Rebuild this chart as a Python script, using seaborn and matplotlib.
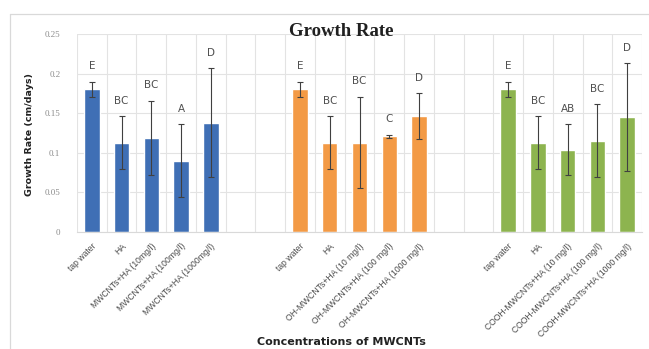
import numpy as np
import pandas as pd
import seaborn as sns
import matplotlib.pyplot as plt
from matplotlib.lines import Line2D

# ---- data ----
blue_labels = ["tap water", "HA", "MWCNTs+HA (10mg/l)", "MWCNTs+HA (100mg/l)", "MWCNTs+HA (1000mg/l)"]
orange_labels = ["tap water", "HA", "OH-MWCNTs+HA (10 mg/l)", "OH-MWCNTs+HA (100 mg/l)", "OH-MWCNTs+HA (1000 mg/l)"]
green_labels = ["tap water", "HA", "COOH-MWCNTs+HA (10 mg/l)", "COOH-MWCNTs+HA (100 mg/l)", "COOH-MWCNTs+HA (1000 mg/l)"]

blue_values = [0.180, 0.113, 0.119, 0.090, 0.138]
blue_errors = [0.010, 0.033, 0.047, 0.046, 0.069]
orange_values = [0.180, 0.113, 0.113, 0.121, 0.146]
orange_errors = [0.010, 0.033, 0.058, 0.002, 0.029]
green_values = [0.180, 0.113, 0.104, 0.115, 0.145]
green_errors = [0.010, 0.033, 0.032, 0.046, 0.068]

blue_letters = ["E", "BC", "BC", "A", "D"]
orange_letters = ["E", "BC", "BC", "C", "D"]
green_letters = ["E", "BC", "AB", "BC", "D"]

group_names = ["MWCNTs", "OH-MWCNTs", "COOH-MWCNTs"]
colors = {"MWCNTs": "#3F6FB5", "OH-MWCNTs": "#F39A45", "COOH-MWCNTs": "#8DB44F"}

# ---- build table ----
rows = []
order = []
tick_labels = []
all_sets = [(blue_labels, blue_values, blue_errors, blue_letters),
            (orange_labels, orange_values, orange_errors, orange_letters),
            (green_labels, green_values, green_errors, green_letters)]
for gi, (labs, vals, errs, lets) in enumerate(all_sets):
    for i, (l, v, e, t) in enumerate(zip(labs, vals, errs, lets)):
        key = f"{gi}_{i}"
        rows.append(dict(key=key, label=l, value=v, err=e, letter=t, group=group_names[gi]))
        order.append(key)
        tick_labels.append(l)
    if gi < 2:
        for j in range(2):
            order.append(f"gap{gi}_{j}")
            tick_labels.append("")
df = pd.DataFrame(rows)

# ---- plot ----
sns.set_theme(style="white")
plt.rcParams['font.family'] = ['DejaVu Sans']
fig = plt.figure(figsize=(6.49, 3.49), dpi=100)
ax = fig.add_axes([77/649, 1 - 232/349, (642 - 77)/649, (232 - 34)/349])

sns.barplot(data=df, x="key", y="value", hue="group", order=order,
            hue_order=group_names, palette=colors, dodge=False, width=0.52,
            legend=False, ax=ax, errorbar=None, saturation=1)

pos = np.array([order.index(k) for k in df["key"]])
ax.errorbar(pos, df["value"], yerr=df["err"], fmt="none", ecolor="#404040",
            elinewidth=0.8, capsize=2, capthick=0.8, zorder=5)

for x, v, e, t in zip(pos, df["value"], df["err"], df["letter"]):
    ax.annotate(t, (x, v + e), xytext=(0, 11), textcoords="offset points",
                ha="center", va="center", fontsize=7.5, color="#505050")

ax.set_ylim(0, 0.25)
ax.set_xlim(-0.5, len(order) - 0.5)
ax.set_yticks([0, 0.05, 0.1, 0.15, 0.2, 0.25])
ax.set_yticklabels(["0", "0.05", "0.1", "0.15", "0.2", "0.25"], fontsize=6.5,
                   color="#8C8C8C", family="Liberation Serif")
ax.set_xticks(range(len(order)))
ax.set_xticklabels(tick_labels, rotation=45, ha="right", rotation_mode="anchor",
                   fontsize=6.2, color="#4A4A4A", family="Liberation Sans")
ax.tick_params(axis="x", length=0, pad=7)
ax.tick_params(axis="y", length=0, pad=12)

# grid
ax.set_axisbelow(True)
ax.yaxis.grid(True, color="#E3E3E3", lw=0.8)
ax.set_xticks(np.arange(-0.5, len(order), 1.0), minor=True)
ax.xaxis.grid(True, which="minor", color="#E3E3E3", lw=0.8)
ax.xaxis.grid(False, which="major")
for s in ["left", "right", "top"]:
    ax.spines[s].set_visible(False)
ax.spines["bottom"].set_color("#D9D9D9")
ax.spines["bottom"].set_linewidth(0.8)

ax.set_xlabel("")
ax.set_ylabel("")
fig.text(30/649, 1 - 134/349, "Growth Rate (cm/days)", rotation=90, ha="center",
         va="center", fontsize=6.8, fontweight="bold", color="#222222")
fig.text(341/649, 1 - 342/349, "Concentrations of MWCNTs", ha="center", va="center",
         fontsize=8, fontweight="bold", color="#222222")
fig.text(341/649, 1 - 32/349, "Growth Rate", ha="center", va="center",
         fontsize=13.5, fontweight="bold", family="Liberation Serif", color="#202020")

# outer chart border (left and top visible)
fig.add_artist(Line2D([10/649, 10/649], [0, 1 - 14/349], transform=fig.transFigure,
                      color="#D9D9D9", lw=0.9))
fig.add_artist(Line2D([10/649, 1], [1 - 14/349, 1 - 14/349], transform=fig.transFigure,
                      color="#D9D9D9", lw=0.9))

fig.savefig("out.png", dpi=100)
